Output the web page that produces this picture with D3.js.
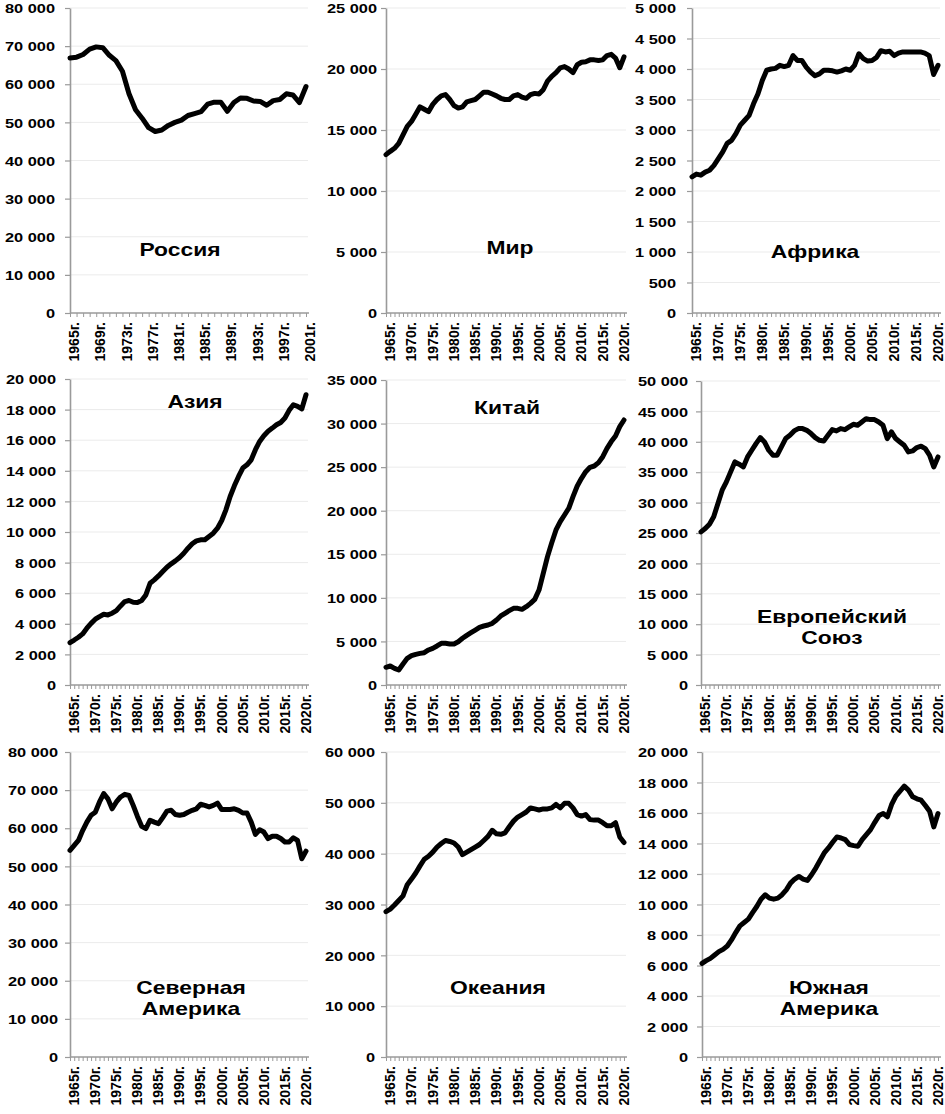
<!DOCTYPE html>
<html>
<head>
<meta charset="utf-8">
<script src="https://cdn.jsdelivr.net/npm/d3@7"></script>
<style>
  body { margin: 0; background: #fff; }
  text { font-family: 'Liberation Sans', Arial, sans-serif; font-weight: bold; fill: #000; }
</style>
</head>
<body>
<script>
// years
const yearsRu = d3.range(1965, 2002);
const yearsAll = d3.range(1965, 2022);

// values
const russia = [66900, 67100, 67800, 69200, 69800, 69600, 67600, 66200, 63400, 57500, 53300, 51100, 48600, 47600, 48000, 49200, 50000, 50600, 51800, 52300, 52800, 54800, 55300, 55300, 52900, 55200, 56400, 56300, 55600, 55500, 54500, 55700, 56000, 57500, 57200, 55200, 59400];
const world = [12980, 13250, 13500, 13900, 14600, 15300, 15700, 16300, 16900, 16700, 16500, 17100, 17500, 17800, 17900, 17500, 17000, 16800, 16900, 17300, 17400, 17500, 17800, 18100, 18100, 17950, 17800, 17600, 17500, 17500, 17800, 17900, 17700, 17600, 17900, 18000, 17950, 18300, 19000, 19400, 19700, 20100, 20200, 20000, 19700, 20350, 20550, 20600, 20750, 20750, 20700, 20750, 21100, 21200, 20900, 20100, 21000];
const africa = [2233, 2277, 2260, 2310, 2340, 2420, 2530, 2640, 2780, 2830, 2940, 3080, 3160, 3240, 3430, 3590, 3810, 3980, 4000, 4010, 4060, 4040, 4060, 4220, 4140, 4140, 4030, 3950, 3890, 3920, 3980, 3980, 3970, 3950, 3970, 4000, 3980, 4060, 4250, 4170, 4130, 4140, 4190, 4300, 4280, 4290, 4220, 4260, 4280, 4280, 4280, 4280, 4280, 4260, 4220, 3910, 4060];
const asia = [2770, 2940, 3120, 3340, 3710, 4030, 4300, 4470, 4620, 4580, 4690, 4860, 5170, 5450, 5520, 5410, 5390, 5520, 5890, 6650, 6870, 7130, 7420, 7700, 7920, 8110, 8330, 8610, 8940, 9230, 9420, 9490, 9490, 9710, 9920, 10250, 10750, 11450, 12320, 13020, 13630, 14180, 14390, 14720, 15380, 15920, 16290, 16580, 16790, 17010, 17160, 17450, 17950, 18320, 18210, 18040, 18970];
const china = [2030, 2180, 1910, 1720, 2410, 3060, 3370, 3520, 3630, 3710, 4020, 4210, 4480, 4780, 4780, 4710, 4710, 4970, 5360, 5700, 6010, 6310, 6620, 6770, 6890, 7080, 7460, 7920, 8230, 8530, 8800, 8800, 8680, 8990, 9370, 9830, 10900, 12820, 14730, 16330, 17790, 18750, 19510, 20280, 21610, 22840, 23720, 24480, 24980, 25130, 25520, 26200, 27160, 27930, 28580, 29650, 30410];
const eu = [25190, 25740, 26450, 27660, 29850, 32040, 33410, 35050, 36690, 36310, 35870, 37510, 38610, 39700, 40690, 39980, 38610, 37790, 37790, 39160, 40530, 41070, 41790, 42170, 42170, 41890, 41350, 40690, 40250, 40140, 41070, 42000, 41790, 42170, 42000, 42440, 42880, 42720, 43260, 43810, 43650, 43650, 43260, 42720, 40530, 41620, 40530, 39980, 39430, 38340, 38500, 39050, 39270, 38880, 37790, 35870, 37510];
const northAm = [54200, 55500, 56800, 59400, 61600, 63400, 64200, 66900, 69100, 67700, 65100, 66900, 68200, 68900, 68600, 66000, 63100, 60500, 59900, 62100, 61600, 61200, 62800, 64500, 64700, 63600, 63400, 63600, 64200, 64700, 65100, 66300, 66000, 65600, 66000, 66600, 64900, 64900, 64900, 65100, 64700, 64000, 64000, 61600, 58400, 59600, 59000, 57300, 57900, 57900, 57300, 56400, 56400, 57500, 56800, 52000, 54000];
const oceania = [28600, 29100, 29900, 30800, 31700, 33900, 35000, 36200, 37600, 38900, 39500, 40300, 41300, 42000, 42600, 42400, 42100, 41300, 39800, 40300, 40800, 41300, 41800, 42600, 43400, 44600, 43900, 43800, 44100, 45300, 46400, 47200, 47700, 48200, 49000, 48800, 48600, 48800, 48800, 49000, 49700, 49000, 49900, 49900, 49000, 47700, 47400, 47700, 46700, 46600, 46600, 46100, 45500, 45500, 46100, 43300, 42200];
const southAm = [6140, 6320, 6470, 6690, 6910, 7060, 7280, 7680, 8160, 8600, 8820, 9040, 9470, 9870, 10350, 10640, 10420, 10350, 10420, 10640, 10960, 11400, 11670, 11840, 11670, 11580, 11950, 12390, 12890, 13380, 13710, 14080, 14430, 14360, 14250, 13930, 13860, 13820, 14250, 14580, 14910, 15390, 15830, 15960, 15750, 16560, 17110, 17430, 17760, 17500, 17060, 16930, 16840, 16490, 16120, 15090, 15960];

const titles = [['Россия'], ['Мир'], ['Африка'], ['Азия'], ['Китай'], ['Европейский', 'Союз'], ['Северная', 'Америка'], ['Океания'], ['Южная', 'Америка']];
const yMax = [80000, 25000, 5000, 20000, 35000, 50000, 80000, 60000, 20000];
const yStep = [10000, 5000, 500, 2000, 5000, 5000, 10000, 10000, 2000];
const labelEvery = [4, 5, 5, 5, 5, 5, 5, 5, 5];
const series = [russia, world, africa, asia, china, eu, northAm, oceania, southAm];
const yearSets = [yearsRu, yearsAll, yearsAll, yearsAll, yearsAll, yearsAll, yearsAll, yearsAll, yearsAll];

// panel boxes: left, right, top, bottom, title x, title y, label gap
const boxes = [
  [70, 306, 8, 313, 180, 250, 15],
  [386, 624, 8, 313, 510, 248, 9],
  [692, 938, 8, 313, 815, 252, 16],
  [70, 306, 379, 685, 195, 402, 14],
  [386, 624, 380, 685, 507, 408, 9],
  [701, 938, 381, 685, 832, 617, 13],
  [70, 306, 752, 1057, 191, 988, 12],
  [386, 624, 752, 1057, 498, 988, 11],
  [702, 938, 752, 1057, 829, 988, 14]
];

const W = 945, H = 1114;
const sx = 1.26; // text in the picture is a bit wide
const fmt = d => d3.format(',')(d).replace(/,/g, ' ');

const svg = d3.select('body').append('svg').attr('width', W).attr('height', H);

series.forEach((vals, i) => {
  const [l, r, t, b, tx, ty, gap] = boxes[i];
  const years = yearSets[i];
  const g = svg.append('g');

  const x = d3.scalePoint().domain(years).range([l, r]);
  const y = d3.scaleLinear().domain([0, yMax[i]]).range([b, t]);
  const yTicks = d3.range(0, yMax[i] + 1, yStep[i]);

  // grid
  g.selectAll('.grid')
    .data(yTicks.filter(d => d > 0))
    .enter()
    .append('line')
    .attr('x1', l).attr('x2', r + 2)
    .attr('y1', d => y(d)).attr('y2', d => y(d))
    .attr('stroke', '#ebebeb').attr('stroke-width', 1);

  // y axis
  const ya = g.append('g')
    .attr('transform', `translate(${l},0)`)
    .call(d3.axisLeft(y).tickValues(yTicks).tickSize(5).tickSizeOuter(0).tickFormat(fmt));
  ya.select('.domain').attr('stroke', '#9a9a9a').attr('stroke-width', 1.6);
  ya.selectAll('.tick line').attr('stroke', '#9a9a9a').attr('stroke-width', 1.2);
  ya.selectAll('.tick text')
    .attr('x', -gap / sx)
    .attr('dy', '0.36em')
    .attr('transform', `scale(${sx},1)`)
    .style('font-size', '13px');

  // x axis
  const xa = g.append('g')
    .attr('transform', `translate(0,${b})`)
    .call(d3.axisBottom(x).tickSize(4).tickSizeOuter(0)
      .tickFormat(d => (d - 1965) % labelEvery[i] === 0 ? d + 'г.' : ''));
  xa.select('.domain').attr('stroke', '#9a9a9a').attr('stroke-width', 1.6)
    .attr('d', `M${l},0H${r + 3}`);
  xa.selectAll('.tick line').attr('stroke', '#9a9a9a').attr('stroke-width', 1);
  xa.selectAll('.tick text')
    .attr('text-anchor', 'end')
    .attr('x', 0).attr('y', 0).attr('dy', '0.36em')
    .attr('transform', 'translate(3,9) scale(1.1,1) rotate(-90)')
    .style('font-size', '14px');

  // line
  const line = d3.line()
    .x((d, j) => x(years[j]))
    .y(d => y(d));
  g.append('path')
    .datum(vals)
    .attr('d', line)
    .attr('fill', 'none')
    .attr('stroke', '#000')
    .attr('stroke-width', 5)
    .attr('stroke-linejoin', 'round')
    .attr('stroke-linecap', 'round');

  // title
  titles[i].forEach((s, k) => {
    g.append('text')
      .attr('transform', `translate(${tx},${ty + k * 21}) scale(1.27,1)`)
      .attr('text-anchor', 'middle')
      .attr('dy', '0.36em')
      .style('font-size', '18px')
      .text(s);
  });
});
</script>
</body>
</html>
